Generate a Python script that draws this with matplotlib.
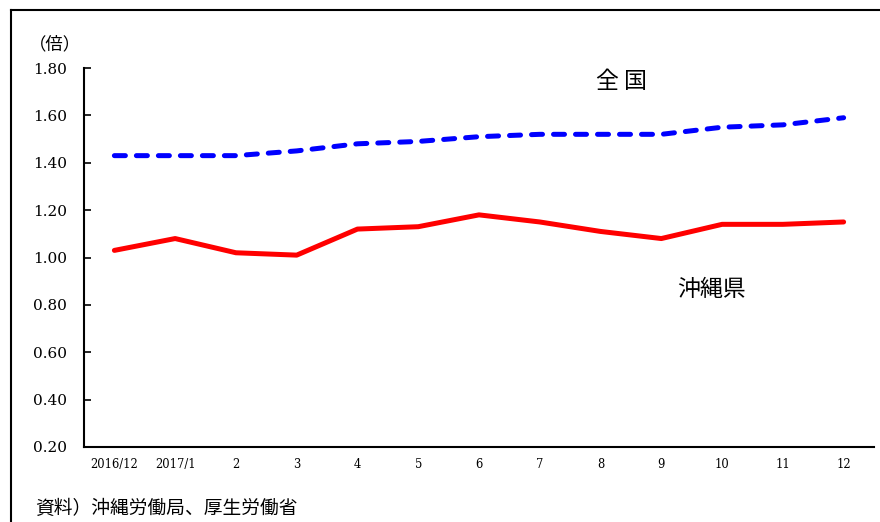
import matplotlib
matplotlib.use('Agg')
import matplotlib.pyplot as plt
from matplotlib.lines import Line2D

plt.rcParams['font.family'] = ['DejaVu Serif', 'Noto Sans CJK JP', 'DejaVu Sans']

months = ['2016/12', '2017/1', '2', '3', '4', '5', '6', '7', '8', '9', '10', '11', '12']
zenkoku = [1.43, 1.43, 1.43, 1.45, 1.48, 1.49, 1.51, 1.52, 1.52, 1.52, 1.55, 1.56, 1.59]
okinawa = [1.03, 1.08, 1.02, 1.01, 1.12, 1.13, 1.18, 1.15, 1.11, 1.08, 1.14, 1.14, 1.15]
yticks = [0.20, 0.40, 0.60, 0.80, 1.00, 1.20, 1.40, 1.60, 1.80]

fig = plt.figure(figsize=(8.8, 5.22), dpi=100)
ax = fig.add_axes([84 / 880, 1 - 447 / 522, 790 / 880, 379 / 522])

x = list(range(len(months)))
ax.plot(x, okinawa, color='#ff0000', lw=3.6, solid_capstyle='round', solid_joinstyle='round')
ax.plot(x, zenkoku, color='#0000ff', lw=3.6, linestyle=(0, (2.2, 2.2)),
        dash_capstyle='round')

ax.set_xlim(-0.5, 12.5)
ax.set_ylim(0.2, 1.8)
ax.set_xticks(x)
ax.set_xticklabels(months, fontsize=8.3)
ax.set_yticks(yticks)
ax.set_yticklabels([f'{v:.2f}' for v in yticks], fontsize=11)
ax.tick_params(axis='x', length=0, pad=8)
ax.tick_params(axis='y', direction='in', length=5, width=1.2, pad=12)
for side in ['top', 'right']:
    ax.spines[side].set_visible(False)
for side in ['left', 'bottom']:
    ax.spines[side].set_linewidth(1.5)

# 注釈
fig.text(55 / 880, 1 - 44 / 522, '（倍）', fontsize=12.5, ha='center', va='center',
         family=['Noto Sans CJK JP'])
fig.text(621 / 880, 1 - 82 / 522, '全 国', fontsize=16.5, ha='center', va='center',
         family=['Noto Sans CJK JP'])
fig.text(711 / 880, 1 - 290 / 522, '沖縄県', fontsize=16.5, ha='center', va='center',
         family=['Noto Sans CJK JP'])
fig.text(35 / 880, 1 - 508 / 522, '資料）沖縄労働局、厚生労働省', fontsize=13.5, ha='left', va='center',
         family=['Noto Sans CJK JP'])

# 外枠
fig.add_artist(Line2D([11 / 880, 11 / 880], [0, 1 - 10 / 522], color='black', lw=1.5,
                      transform=fig.transFigure))
fig.add_artist(Line2D([11 / 880, 1], [1 - 10 / 522, 1 - 10 / 522], color='black', lw=1.5,
                      transform=fig.transFigure))

plt.savefig('out.png', dpi=100)
plt.close()
